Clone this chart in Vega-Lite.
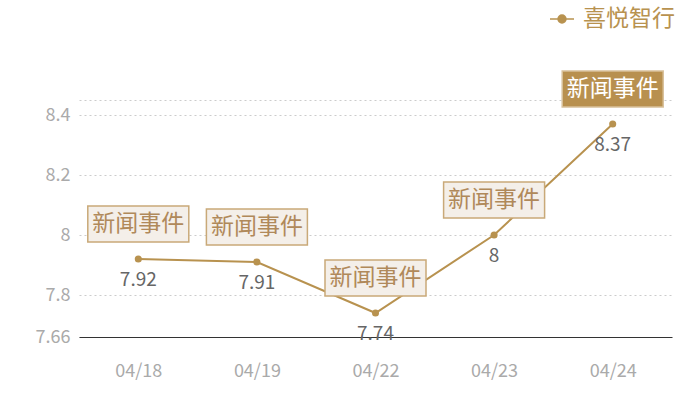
{
  "$schema": "https://vega.github.io/schema/vega-lite/v6.json",
  "width": 593,
  "height": 237,
  "autosize": "none",
  "padding": {"left": 79, "top": 100, "right": 28, "bottom": 63},
  "background": "white",
  "config": {
    "font": "Noto Sans CJK SC",
    "view": {"stroke": null}
  },
  "data": {
    "values": [
      {"date": "04/18", "value": 7.92, "event": "新闻事件"},
      {"date": "04/19", "value": 7.91, "event": "新闻事件"},
      {"date": "04/22", "value": 7.74, "event": "新闻事件"},
      {"date": "04/23", "value": 8, "event": "新闻事件"},
      {"date": "04/24", "value": 8.37, "event": "新闻事件"}
    ]
  },
  "encoding": {
    "x": {
      "field": "date",
      "type": "ordinal",
      "scale": {"type": "point", "padding": 0.5},
      "axis": {
        "title": null,
        "labelAngle": 0,
        "ticks": false,
        "domainColor": "#333333",
        "domainWidth": 1,
        "labelColor": "#aaaaaa",
        "labelFontSize": 18,
        "labelPadding": 25
      }
    },
    "y": {
      "field": "value",
      "type": "quantitative",
      "scale": {"domain": [7.66, 8.45], "nice": false, "zero": false},
      "axis": {
        "title": null,
        "domain": false,
        "ticks": false,
        "values": [7.66, 7.8, 8, 8.2, 8.4, 8.45],
        "labelExpr": "datum.value == 8.45 ? '' : '' + datum.value",
        "gridDash": [2, 3],
        "gridColor": "#cccccc",
        "labelColor": "#aaaaaa",
        "labelFontSize": 18,
        "labelPadding": 9
      }
    }
  },
  "layer": [
    {
      "mark": {"type": "line", "strokeWidth": 2},
      "encoding": {
        "color": {
          "datum": "喜悦智行",
          "type": "nominal",
          "scale": {"range": ["#b8924f"]},
          "legend": {
            "title": null,
            "orient": "none",
            "legendX": 470,
            "legendY": -94,
            "padding": 0,
            "symbolType": "M-1,0H1M-0.33,0A0.33,0.33,0,1,1,0.33,0A0.33,0.33,0,1,1,-0.33,0Z",
            "symbolSize": 576,
            "symbolStrokeWidth": 1.5,
            "symbolFillColor": "#b8924f",
            "symbolStrokeColor": "#b8924f",
            "labelFontSize": 23,
            "labelColor": "#b8924f",
            "labelOffset": 8
          }
        }
      }
    },
    {
      "mark": {"type": "point", "filled": true, "size": 50, "color": "#b8924f", "opacity": 1}
    },
    {
      "mark": {"type": "text", "dy": 21, "fontSize": 19, "color": "#666666", "baseline": "middle"},
      "encoding": {"text": {"field": "value", "type": "quantitative"}}
    },
    {
      "mark": {"type": "rect", "width": 101, "yOffset": -17, "y2Offset": -53, "strokeWidth": 1.5},
      "encoding": {
        "y2": {"field": "value"},
        "fill": {
          "condition": {"test": "datum.date === '04/24'", "value": "#b8904f"},
          "value": "#f4efe9"
        },
        "stroke": {
          "condition": {"test": "datum.date === '04/24'", "value": "#d8c09a"},
          "value": "#c9a978"
        }
      }
    },
    {
      "mark": {"type": "text", "dy": -35, "fontSize": 23, "baseline": "middle"},
      "encoding": {
        "text": {"field": "event"},
        "color": {
          "condition": {"test": "datum.date === '04/24'", "value": "#ffffff"},
          "value": "#b0895a"
        }
      }
    }
  ]
}
